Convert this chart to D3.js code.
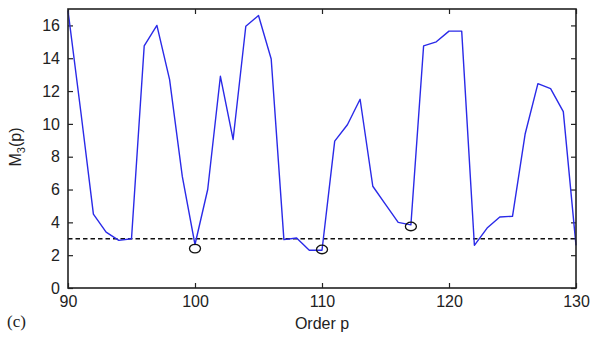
<!DOCTYPE html>
<html>
<head>
<meta charset="utf-8">
<script src="https://cdn.jsdelivr.net/npm/d3@7"></script>
<style>
    body { margin: 0; background: #fff; }
    text { font-family: Arial, "Liberation Sans", sans-serif; fill: #222; }
</style>
</head>
<body>
<div id="chart"></div>
<script>
let orders = [90, 91, 92, 93, 94, 95, 96, 97, 98, 99, 100, 101, 102, 103, 104, 105, 106, 107, 108, 109, 110,
    111, 112, 113, 114, 115, 116, 117, 118, 119, 120, 121, 122, 123, 124, 125, 126, 127, 128, 129, 130];
let m3 = [16.9, 10.8, 4.5, 3.4, 2.9, 3.0, 14.75, 16.0, 12.7, 6.8, 2.65, 6.0, 12.9, 9.05, 15.95, 16.6, 13.95,
    2.95, 3.05, 2.3, 2.3, 8.95, 9.95, 11.5, 6.2, 5.1, 4.0, 3.85, 14.75, 15.0, 15.65, 15.65, 2.6, 3.65,
    4.33, 4.37, 9.4, 12.45, 12.15, 10.75, 2.6];
let markedOrders = [100, 110, 117];
let markedValues = [2.4, 2.35, 3.75];
let threshold = 3;
let xTicks = [90, 100, 110, 120, 130];
let yTicks = [0, 2, 4, 6, 8, 10, 12, 14, 16];

let svgWidth = 592;
let svgHeight = 338;
let margin = { left: 68, right: 16, top: 9, bottom: 50 };

let svg = d3.select('#chart').append('svg')
    .attr('width', svgWidth)
    .attr('height', svgHeight);

let x = d3.scaleLinear().domain([90, 130]).range([margin.left, svgWidth - margin.right]);
let y = d3.scaleLinear().domain([0, 17]).range([svgHeight - margin.bottom, margin.top]);

let line = d3.line()
    .x(function (d, i) { return x(orders[i]); })
    .y(function (d) { return y(d); });

// matlab-style inward ticks on all four sides
let tickLen = 5;
let axes = svg.append('g');
axes.append('g')
    .attr('transform', 'translate(0,' + y(0) + ')')
    .call(d3.axisBottom(x).tickValues(xTicks).tickSizeInner(-tickLen).tickSizeOuter(0).tickPadding(8));
axes.append('g')
    .attr('transform', 'translate(0,' + y(17) + ')')
    .call(d3.axisTop(x).tickValues(xTicks).tickSizeInner(-tickLen).tickSizeOuter(0).tickFormat(''));
axes.append('g')
    .attr('transform', 'translate(' + x(90) + ',0)')
    .call(d3.axisLeft(y).tickValues(yTicks).tickSizeInner(-tickLen).tickSizeOuter(0).tickPadding(8));
axes.append('g')
    .attr('transform', 'translate(' + x(130) + ',0)')
    .call(d3.axisRight(y).tickValues(yTicks).tickSizeInner(-tickLen).tickSizeOuter(0).tickFormat(''));
axes.selectAll('.domain').remove();
axes.selectAll('.tick line').attr('stroke', '#222').attr('stroke-width', 1.2);
axes.selectAll('.tick text').style('font-size', '16px').attr('fill', '#222');

svg.append('line')
    .attr('x1', x(90)).attr('x2', x(130))
    .attr('y1', y(threshold)).attr('y2', y(threshold))
    .attr('stroke', '#111')
    .attr('stroke-width', 1.3)
    .attr('stroke-dasharray', '4.5,3');

svg.append('path')
    .datum(m3)
    .attr('d', line)
    .attr('fill', 'none')
    .attr('stroke', '#2a2ae8')
    .attr('stroke-width', 1.4)
    .attr('stroke-linejoin', 'round');

svg.selectAll('ellipse.mark')
    .data(markedValues)
    .enter().append('ellipse')
    .attr('class', 'mark')
    .attr('cx', function (d, i) { return x(markedOrders[i]); })
    .attr('cy', function (d) { return y(d); })
    .attr('rx', 5.5)
    .attr('ry', 4.3)
    .attr('fill', 'none')
    .attr('stroke', '#111')
    .attr('stroke-width', 1.3);

svg.append('rect')
    .attr('x', x(90)).attr('y', y(17))
    .attr('width', x(130) - x(90))
    .attr('height', y(0) - y(17))
    .attr('fill', 'none')
    .attr('stroke', '#222')
    .attr('stroke-width', 1.6);

svg.append('text')
    .attr('x', (x(90) + x(130)) / 2)
    .attr('y', 329)
    .attr('text-anchor', 'middle')
    .style('font-size', '16px')
    .text('Order p');

let ylab = svg.append('text')
    .attr('transform', 'translate(21,' + 147 + ') rotate(-90)')
    .attr('text-anchor', 'middle')
    .style('font-size', '16px');
ylab.append('tspan').text('M');
ylab.append('tspan').attr('dy', 4).style('font-size', '11px').text('3');
ylab.append('tspan').attr('dy', -4).text('(p)');

svg.append('text')
    .attr('x', 7)
    .attr('y', 327)
    .style('font-family', '"Times New Roman", "Liberation Serif", serif')
    .style('font-size', '17px')
    .text('(c)');
</script>
</body>
</html>
